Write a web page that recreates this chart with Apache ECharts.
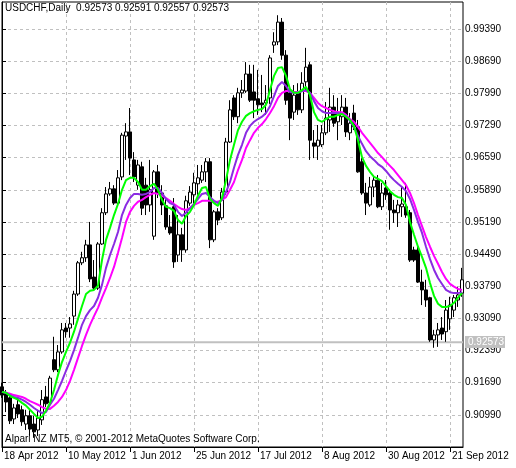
<!DOCTYPE html>
<html><head><meta charset="utf-8">
<script src="https://cdn.jsdelivr.net/npm/echarts@6/dist/echarts.min.js"></script>
<style>html,body{margin:0;padding:0;background:#fff}#c{width:516px;height:468px}</style>
</head><body><div id="c"></div>
<script>
const symbolName = 'USDCHF,Daily';
const headerOHLC = ['0.92573', '0.92591', '0.92557', '0.92573'];
const bidPrice = 0.92573;
const footerText = 'Alpari NZ MT5, \u00a9 2001-2012 MetaQuotes Software Corp.';
const dateTickIndex = [0, 16, 32, 48, 64, 80, 96, 112];
const dateTickLabels = ['18 Apr 2012', '10 May 2012', '1 Jun 2012', '25 Jun 2012', '17 Jul 2012', '8 Aug 2012', '30 Aug 2012', '21 Sep 2012'];
const priceTicks = [0.90990, 0.91690, 0.92390, 0.93090, 0.93790, 0.94490, 0.95190, 0.95890, 0.96590, 0.97290, 0.97990, 0.98690, 0.99390];

const opens = [0.9160,0.9147,0.9136,0.9090,0.9121,0.9110,0.9079,0.9097,0.9079,0.9066,0.9088,0.9138,0.9125,0.9219,0.9197,0.9236,0.9288,0.9288,0.9314,0.9362,
0.9430,0.9441,0.9469,0.9399,0.9375,0.9471,0.9539,0.9580,0.9591,0.9560,0.9617,0.9706,0.9715,0.9654,0.9599,0.9639,0.9599,0.9556,0.9488,0.9628,
0.9582,0.9554,0.9508,0.9552,0.9447,0.9491,0.9458,0.9560,0.9578,0.9602,0.9610,0.9628,0.9650,0.9480,0.9541,0.9528,0.9584,0.9693,0.9789,0.9748,
0.9800,0.9804,0.9841,0.9802,0.9787,0.9778,0.9778,0.9789,0.9904,0.9911,0.9954,0.9882,0.9800,0.9758,0.9802,0.9763,0.9824,0.9861,0.9691,0.9684,
0.9687,0.9713,0.9741,0.9769,0.9737,0.9748,0.9769,0.9713,0.9756,0.9726,0.9650,0.9582,0.9556,0.9595,0.9610,0.9552,0.9593,0.9582,0.9545,0.9539,
0.9552,0.9552,0.9539,0.9458,0.9458,0.9388,0.9371,0.9354,0.9262,0.9273,0.9288,0.9280,0.9308,0.9327,0.9349,0.9364];
const closes = [0.9142,0.9127,0.9086,0.9114,0.9101,0.9084,0.9097,0.9068,0.9062,0.9092,0.9132,0.9123,0.9179,0.9197,0.9236,0.9284,0.9280,0.9297,0.9362,0.9430,
0.9441,0.9469,0.9395,0.9375,0.9471,0.9539,0.9580,0.9591,0.9560,0.9615,0.9708,0.9715,0.9658,0.9617,0.9643,0.9549,0.9556,0.9589,0.9628,0.9582,
0.9556,0.9508,0.9495,0.9432,0.9491,0.9458,0.9565,0.9584,0.9604,0.9615,0.9628,0.9650,0.9480,0.9541,0.9523,0.9584,0.9693,0.9763,0.9748,0.9800,
0.9806,0.9841,0.9784,0.9784,0.9774,0.9774,0.9784,0.9876,0.9911,0.9954,0.9882,0.9784,0.9745,0.9795,0.9763,0.9821,0.9856,0.9697,0.9684,0.9697,
0.9713,0.9745,0.9769,0.9734,0.9758,0.9769,0.9715,0.9734,0.9726,0.9628,0.9582,0.9560,0.9595,0.9610,0.9552,0.9582,0.9578,0.9545,0.9539,0.9556,
0.9558,0.9534,0.9436,0.9436,0.9388,0.9371,0.9349,0.9262,0.9273,0.9284,0.9275,0.9327,0.9338,0.9354,0.9360,0.9393];
const lows = [0.9136,0.9105,0.9079,0.9079,0.9092,0.9075,0.9066,0.9053,0.9049,0.9053,0.9077,0.9116,0.9121,0.9192,0.9192,0.9232,0.9267,0.9267,0.9295,0.9358,
0.9425,0.9432,0.9388,0.9371,0.9371,0.9469,0.9534,0.9576,0.9556,0.9556,0.9610,0.9654,0.9621,0.9606,0.9589,0.9534,0.9534,0.9541,0.9480,0.9571,
0.9534,0.9502,0.9491,0.9419,0.9432,0.9432,0.9452,0.9554,0.9556,0.9578,0.9604,0.9606,0.9462,0.9475,0.9512,0.9523,0.9578,0.9691,0.9741,0.9734,
0.9789,0.9800,0.9780,0.9745,0.9752,0.9758,0.9752,0.9776,0.9887,0.9904,0.9872,0.9774,0.9697,0.9741,0.9752,0.9756,0.9802,0.9654,0.9658,0.9654,
0.9682,0.9708,0.9715,0.9726,0.9697,0.9730,0.9704,0.9697,0.9719,0.9626,0.9578,0.9534,0.9552,0.9573,0.9549,0.9545,0.9567,0.9502,0.9517,0.9508,
0.9530,0.9528,0.9432,0.9432,0.9386,0.9338,0.9334,0.9258,0.9245,0.9247,0.9262,0.9258,0.9284,0.9312,0.9334,0.9356];
const highs = [0.9169,0.9153,0.9142,0.9123,0.9136,0.9119,0.9110,0.9110,0.9097,0.9110,0.9153,0.9162,0.9184,0.9269,0.9251,0.9299,0.9299,0.9312,0.9369,0.9434,
0.9454,0.9480,0.9519,0.9436,0.9475,0.9549,0.9595,0.9606,0.9599,0.9632,0.9713,0.9734,0.9767,0.9671,0.9654,0.9650,0.9615,0.9654,0.9632,0.9643,
0.9599,0.9571,0.9534,0.9571,0.9534,0.9506,0.9576,0.9597,0.9626,0.9643,0.9643,0.9658,0.9658,0.9545,0.9549,0.9593,0.9702,0.9784,0.9795,0.9811,
0.9828,0.9867,0.9861,0.9861,0.9850,0.9839,0.9817,0.9882,0.9932,0.9969,0.9963,0.9893,0.9806,0.9817,0.9821,0.9845,0.9898,0.9867,0.9719,0.9730,
0.9730,0.9780,0.9811,0.9795,0.9789,0.9795,0.9789,0.9756,0.9774,0.9741,0.9658,0.9604,0.9617,0.9621,0.9621,0.9604,0.9610,0.9589,0.9567,0.9567,
0.9595,0.9604,0.9545,0.9465,0.9465,0.9415,0.9393,0.9356,0.9284,0.9299,0.9312,0.9349,0.9356,0.9360,0.9378,0.9419];

const maGreen = [0.9149,0.9147,0.9140,0.9136,0.9132,0.9125,0.9119,0.9110,0.9101,0.9092,0.9095,0.9108,0.9125,0.9153,0.9186,0.9214,0.9236,0.9256,0.9280,0.9308,
0.9336,0.9362,0.9369,0.9371,0.9380,0.9436,0.9480,0.9506,0.9534,0.9558,0.9589,0.9610,0.9615,0.9615,0.9606,0.9589,0.9589,0.9597,0.9602,0.9589,
0.9567,0.9552,0.9549,0.9543,0.9523,0.9515,0.9532,0.9541,0.9556,0.9576,0.9593,0.9595,0.9569,0.9560,0.9554,0.9571,0.9610,0.9654,0.9687,0.9719,
0.9737,0.9750,0.9756,0.9760,0.9763,0.9765,0.9774,0.9806,0.9837,0.9854,0.9856,0.9837,0.9808,0.9800,0.9800,0.9806,0.9813,0.9795,0.9758,0.9741,
0.9737,0.9743,0.9748,0.9748,0.9752,0.9754,0.9748,0.9741,0.9728,0.9697,0.9660,0.9641,0.9628,0.9617,0.9613,0.9608,0.9597,0.9586,0.9578,0.9573,
0.9571,0.9556,0.9519,0.9491,0.9465,0.9443,0.9419,0.9386,0.9358,0.9341,0.9334,0.9334,0.9336,0.9343,0.9354,0.9364];
const maPurple = [0.9149,0.9147,0.9142,0.9138,0.9136,0.9132,0.9127,0.9121,0.9114,0.9108,0.9103,0.9105,0.9121,0.9134,0.9153,0.9173,0.9195,0.9216,0.9240,0.9267,
0.9295,0.9314,0.9327,0.9336,0.9354,0.9382,0.9419,0.9447,0.9471,0.9497,0.9534,0.9556,0.9571,0.9580,0.9580,0.9578,0.9580,0.9584,0.9593,0.9593,
0.9582,0.9569,0.9560,0.9556,0.9541,0.9532,0.9539,0.9549,0.9558,0.9569,0.9580,0.9582,0.9573,0.9565,0.9560,0.9567,0.9584,0.9606,0.9637,0.9665,
0.9687,0.9713,0.9728,0.9737,0.9743,0.9748,0.9756,0.9771,0.9793,0.9815,0.9824,0.9815,0.9802,0.9800,0.9800,0.9804,0.9806,0.9800,0.9782,0.9767,
0.9760,0.9756,0.9756,0.9756,0.9756,0.9754,0.9750,0.9739,0.9726,0.9706,0.9689,0.9673,0.9662,0.9654,0.9645,0.9639,0.9630,0.9619,0.9610,0.9602,
0.9595,0.9586,0.9569,0.9545,0.9519,0.9495,0.9465,0.9438,0.9415,0.9397,0.9384,0.9371,0.9366,0.9364,0.9364,0.9366];
const maMagenta = [0.9149,0.9147,0.9145,0.9142,0.9140,0.9138,0.9134,0.9129,0.9125,0.9121,0.9116,0.9112,0.9112,0.9119,0.9127,0.9138,0.9153,0.9173,0.9197,0.9223,
0.9249,0.9273,0.9295,0.9314,0.9332,0.9354,0.9375,0.9397,0.9421,0.9452,0.9484,0.9519,0.9541,0.9554,0.9563,0.9567,0.9573,0.9578,0.9582,0.9580,
0.9576,0.9571,0.9565,0.9558,0.9552,0.9547,0.9545,0.9549,0.9556,0.9560,0.9565,0.9565,0.9565,0.9563,0.9563,0.9567,0.9573,0.9589,0.9606,0.9632,
0.9654,0.9680,0.9697,0.9713,0.9724,0.9732,0.9743,0.9756,0.9771,0.9789,0.9800,0.9804,0.9804,0.9802,0.9802,0.9804,0.9804,0.9800,0.9789,0.9778,
0.9771,0.9767,0.9763,0.9760,0.9758,0.9758,0.9752,0.9743,0.9737,0.9726,0.9713,0.9702,0.9691,0.9680,0.9669,0.9660,0.9650,0.9641,0.9632,0.9621,
0.9610,0.9599,0.9582,0.9560,0.9534,0.9510,0.9486,0.9465,0.9445,0.9428,0.9410,0.9395,0.9384,0.9378,0.9373,0.9371];

const candleData = opens.map((o, i) => [i, o, closes[i], lows[i], highs[i]]);
const pts = arr => arr.map((v, i) => [i, v]);

const FONT = 'Liberation Sans';
const X_MAX = 115.25;
const Y_MIN = 0.90290, Y_MAX = 0.99978;
const chart = echarts.init(document.getElementById('c'), null, {renderer: 'canvas'});
chart.setOption({
  animation: false,
  backgroundColor: '#fff',
  textStyle: {fontFamily: FONT},
  grid: {left: 2, top: 2, width: 461, height: 445, show: true, borderColor: '#000', borderWidth: 1, backgroundColor: '#fff'},
  xAxis: {
    type: 'value', min: 0, max: X_MAX, interval: 8,
    axisLine: {show: true, lineStyle: {color: '#000', width: 1}},
    axisTick: {show: true, length: 5, lineStyle: {color: '#000'}, customValues: dateTickIndex},
    axisLabel: {customValues: dateTickIndex, color: '#000', fontSize: 10, fontFamily: FONT, align: 'left', verticalAlign: 'top', margin: 4, padding: [0, 0, 0, 2],
      formatter: v => { const k = dateTickIndex.indexOf(Math.round(v)); return k >= 0 ? dateTickLabels[k] : ''; }},
    splitLine: {show: true, lineStyle: {color: '#c0c0c0', type: [3, 3], width: 1}}
  },
  yAxis: {
    type: 'value', position: 'right', min: Y_MIN, max: Y_MAX, interval: 0.007,
    axisLine: {show: true, lineStyle: {color: '#000', width: 1}},
    axisTick: {show: true, length: 4, lineStyle: {color: '#000'}, customValues: priceTicks},
    axisLabel: {customValues: priceTicks, color: '#000', fontSize: 10, lineHeight: 9, fontFamily: FONT, margin: 2, hideOverlap: false, formatter: v => v.toFixed(5)},
    splitLine: {show: true, lineStyle: {color: '#c0c0c0', type: [3, 3], width: 1}}
  },
  series: [
    {type: 'line', data: [[0, bidPrice], [X_MAX, bidPrice]], showSymbol: false, silent: true, z: 1,
      lineStyle: {color: '#c0c0c0', width: 2}},
    {type: 'candlestick', data: candleData, encode: {x: 0, y: [1, 2, 3, 4]}, barWidth: 3, silent: true, z: 2,
      itemStyle: {color: '#fff', color0: '#000', borderColor: '#000', borderColor0: '#000', borderWidth: 1}},
    {type: 'line', data: pts(maMagenta), showSymbol: false, silent: true, lineStyle: {color: '#ff00ff', width: 2}, z: 3},
    {type: 'line', data: pts(maPurple), showSymbol: false, silent: true, lineStyle: {color: '#8a2be2', width: 2}, z: 4},
    {type: 'line', data: pts(maGreen), showSymbol: false, silent: true, lineStyle: {color: '#00ff00', width: 2}, z: 5}
  ]
});
// bid price tag placed on the right axis through the library's own y scale
const tagY = chart.convertToPixel({yAxisIndex: 0}, bidPrice);
const axisX = chart.convertToPixel({xAxisIndex: 0}, X_MAX);
chart.setOption({graphic: [
  {type: 'text', left: 5, top: 3, z: 10, style: {text: symbolName + '  ' + headerOHLC.join(' '), fill: '#000', font: '10px "' + FONT + '"'}},
  {type: 'text', left: 5, top: 434, z: 10, style: {text: footerText, fill: '#000', font: '10px "' + FONT + '"'}},
  {type: 'rect', z: 19, silent: true, shape: {x: axisX + 2, y: Math.round(tagY) - 6, width: 40, height: 12}, style: {fill: '#c0c0c0'}},
  {type: 'text', z: 20, silent: true, x: axisX + 5, y: Math.round(tagY), style: {text: bidPrice.toFixed(5), fill: '#fff', verticalAlign: 'middle', lineHeight: 9, font: '10px "' + FONT + '"'}}
]});
</script>
</body></html>
